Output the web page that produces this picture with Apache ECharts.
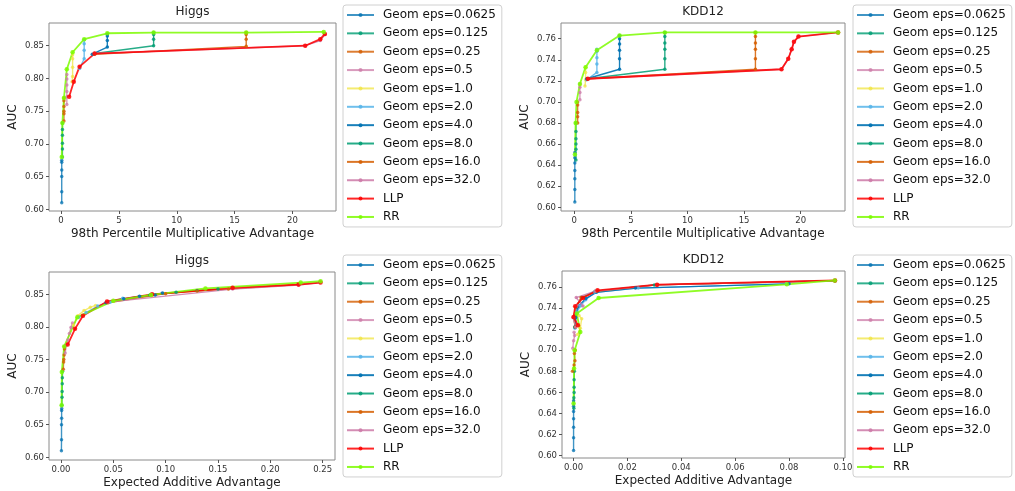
<!DOCTYPE html>
<html>
<head>
<meta charset="utf-8">
<script src="https://cdn.jsdelivr.net/npm/echarts@6/dist/echarts.min.js"></script>
<style>
html, body { margin: 0; padding: 0; background: #fff; }
#chart { width: 1015px; height: 491px; }
</style>
</head>
<body>
<div id="chart"></div>
<script>
// legend names, in plot order
const seriesNames = ['Geom eps=0.0625', 'Geom eps=0.125', 'Geom eps=0.25', 'Geom eps=0.5', 'Geom eps=1.0',
    'Geom eps=2.0', 'Geom eps=4.0', 'Geom eps=8.0', 'Geom eps=16.0', 'Geom eps=32.0', 'LLP', 'RR'];
const seriesColors = ['rgba(0,114,178,0.75)', 'rgba(0,158,115,0.8)', 'rgba(213,94,0,0.8)', 'rgba(204,121,167,0.75)',
    'rgba(240,228,66,0.75)', 'rgba(86,180,233,0.85)', 'rgba(0,114,178,0.9)', 'rgba(0,158,115,0.85)',
    'rgba(213,94,0,0.85)', 'rgba(204,121,167,0.85)', 'rgba(255,0,0,0.85)', 'rgba(124,252,0,0.85)'];

// Higgs, 98th percentile multiplicative advantage vs AUC
const higgsMult = [
    [[0.06, 0.61], [0.06, 0.627], [0.06, 0.65], [0.06, 0.66], [0.06, 0.672], [0.06, 0.675]],
    [[0.12, 0.68], [0.12, 0.692], [0.12, 0.701], [0.12, 0.713], [0.12, 0.722], [0.12, 0.732]],
    [[0.25, 0.735], [0.25, 0.746], [0.25, 0.75], [0.25, 0.757], [0.25, 0.766], [0.25, 0.77]],
    [[0.5, 0.76], [0.5, 0.772], [0.5, 0.78], [0.5, 0.79], [0.5, 0.799], [0.5, 0.806]],
    [[0.95, 0.795], [1, 0.803], [1, 0.817], [1, 0.83], [1, 0.836]],
    [[1.6, 0.815], [2, 0.83], [2, 0.843], [2, 0.853], [2, 0.859]],
    [[2.7, 0.837], [4, 0.848], [4, 0.858], [4, 0.865], [4, 0.868]],
    [[2.9, 0.838], [8, 0.85], [8, 0.86], [8, 0.867], [8, 0.87]],
    [[2.9, 0.837], [16, 0.849], [16, 0.86], [16, 0.867], [16, 0.87]],
    [[2.9, 0.838], [21.1, 0.85], [22.4, 0.858], [22.8, 0.867]],
    [[0.7, 0.772], [1.1, 0.795], [1.6, 0.818], [2.9, 0.838], [21.1, 0.85], [22.4, 0.86], [22.8, 0.868]],
    [[0.06, 0.68], [0.12, 0.732], [0.25, 0.77], [0.5, 0.814], [1, 0.84], [2, 0.86], [4, 0.869], [8, 0.87], [16, 0.87], [22.7, 0.871]]
];

// KDD12, 98th percentile multiplicative advantage vs AUC
const kddMult = [
    [[0.05, 0.605], [0.05, 0.617], [0.05, 0.627], [0.05, 0.635], [0.05, 0.642], [0.05, 0.647], [0.05, 0.652]],
    [[0.15, 0.645], [0.15, 0.655], [0.15, 0.66], [0.15, 0.665], [0.15, 0.672], [0.15, 0.68]],
    [[0.3, 0.68], [0.3, 0.686], [0.3, 0.69], [0.3, 0.697], [0.3, 0.7]],
    [[0.5, 0.702], [0.5, 0.709], [0.5, 0.714], [0.5, 0.717]],
    [[0.95, 0.715], [1, 0.721], [1, 0.728], [1, 0.733]],
    [[1.1, 0.721], [2, 0.728], [2, 0.736], [2, 0.742], [2, 0.748], [2, 0.75]],
    [[1.1, 0.722], [4, 0.731], [4, 0.741], [4, 0.749], [4, 0.755], [4, 0.76], [4, 0.763]],
    [[1.2, 0.722], [8, 0.731], [8, 0.741], [8, 0.75], [8, 0.756], [8, 0.762], [8, 0.766]],
    [[1.2, 0.722], [16, 0.731], [16, 0.741], [16, 0.75], [16, 0.756], [16, 0.762], [16, 0.766]],
    [[1.2, 0.722], [18.3, 0.731], [18.9, 0.741], [19.2, 0.75], [19.4, 0.757], [19.8, 0.762], [23.3, 0.766]],
    [[1.2, 0.722], [18.3, 0.731], [18.9, 0.741], [19.2, 0.75], [19.4, 0.757], [19.8, 0.762], [23.3, 0.766]],
    [[0.06, 0.65], [0.12, 0.68], [0.2, 0.7], [0.5, 0.717], [1, 0.733], [2, 0.749], [4, 0.763], [8, 0.766], [16, 0.766], [23.3, 0.766]]
];

// Higgs, expected additive advantage vs AUC
const higgsAdd = [
    [[0.0004, 0.61], [0.0005, 0.627], [0.0005, 0.65], [0.0006, 0.66], [0.0006, 0.672], [0.0007, 0.675]],
    [[0.0008, 0.68], [0.001, 0.692], [0.0011, 0.701], [0.0012, 0.713], [0.0013, 0.722], [0.0015, 0.732]],
    [[0.0022, 0.735], [0.0025, 0.746], [0.0027, 0.75], [0.003, 0.757], [0.0033, 0.766], [0.0035, 0.77]],
    [[0.004, 0.76], [0.005, 0.772], [0.0065, 0.78], [0.008, 0.79], [0.0095, 0.799], [0.011, 0.806]],
    [[0.012, 0.803], [0.016, 0.817], [0.022, 0.825], [0.028, 0.83], [0.033, 0.833]],
    [[0.017, 0.815], [0.024, 0.822], [0.035, 0.832], [0.047, 0.838], [0.059, 0.844]],
    [[0.043, 0.837], [0.06, 0.843], [0.075, 0.847], [0.09, 0.849], [0.097, 0.852]],
    [[0.045, 0.838], [0.085, 0.849], [0.11, 0.853], [0.13, 0.856], [0.15, 0.858]],
    [[0.045, 0.837], [0.1, 0.851], [0.13, 0.855], [0.16, 0.858], [0.227, 0.865]],
    [[0.045, 0.838], [0.164, 0.858], [0.227, 0.864], [0.247, 0.868]],
    [[0.0064, 0.773], [0.0134, 0.797], [0.021, 0.817], [0.044, 0.839], [0.087, 0.85], [0.164, 0.86], [0.227, 0.865], [0.248, 0.868]],
    [[0.0006, 0.68], [0.0008, 0.731], [0.003, 0.77], [0.0156, 0.815], [0.05, 0.84], [0.086, 0.849], [0.138, 0.859], [0.229, 0.868], [0.248, 0.87]]
];

// KDD12, expected additive advantage vs AUC
const kddAdd = [
    [[0, 0.605], [0, 0.617], [0, 0.627], [0, 0.635], [0, 0.642], [0, 0.647], [0, 0.652]],
    [[0.0001, 0.645], [0.0001, 0.655], [0.0002, 0.66], [0.0002, 0.665], [0.0002, 0.672], [0.0003, 0.68]],
    [[-0.0004, 0.68], [0.0002, 0.686], [0.0005, 0.69], [0.0003, 0.697], [0.0006, 0.7]],
    [[-0.0003, 0.702], [0, 0.709], [0.0004, 0.714], [0.0002, 0.717]],
    [[0.0015, 0.715], [0.0025, 0.721], [0.003, 0.73], [0.002, 0.733]],
    [[0.0005, 0.721], [0.0012, 0.736], [0.0025, 0.742], [0.0045, 0.748], [0.008, 0.755], [0.024, 0.759], [0.079, 0.763]],
    [[0.0005, 0.722], [0.0008, 0.731], [0.0015, 0.741], [0.0045, 0.749], [0.0085, 0.755], [0.023, 0.759], [0.08, 0.763]],
    [[0.0005, 0.722], [0.0003, 0.731], [0.001, 0.741], [0.003, 0.75], [0.008, 0.756], [0.03, 0.762], [0.097, 0.766]],
    [[0.0006, 0.722], [0, 0.731], [0.0008, 0.741], [0.0028, 0.75], [0.0085, 0.756], [0.031, 0.762], [0.097, 0.766]],
    [[0.0008, 0.722], [-0.0002, 0.731], [0.0012, 0.742], [0.0035, 0.742], [0.001, 0.75], [0.008, 0.756], [0.031, 0.762], [0.097, 0.766]],
    [[0.0016, 0.7237], [0, 0.7316], [0.0006, 0.7417], [0.0035, 0.7496], [0.0089, 0.7569], [0.031, 0.7622], [0.0971, 0.7663]],
    [[0, 0.6496], [0.0002, 0.6827], [0.0004, 0.7], [0.0025, 0.7174], [0.0012, 0.7348], [0.0093, 0.7496], [0.0792, 0.7626], [0.097, 0.7663]]
];

// tick labels
const multTicks = [0, 5, 10, 15, 20];
const higgsAddTicks = [0, 0.05, 0.1, 0.15, 0.2, 0.25];
const kddAddTicks = [0, 0.02, 0.04, 0.06, 0.08, 0.1];
const higgsAucTicks = [0.6, 0.65, 0.7, 0.75, 0.8, 0.85];
const kddAucTicks = [0.6, 0.62, 0.64, 0.66, 0.68, 0.7, 0.72, 0.74, 0.76];

const FONT = 'DejaVu Sans';

const panels = [
    { title: 'Higgs', xName: '98th Percentile Multiplicative Advantage', data: higgsMult,
      grid: { left: 49, top: 23, width: 287, height: 188 }, xMin: -1.04, xMax: 23.76, yMin: 0.5974, yMax: 0.8847,
      xTicks: multTicks, yTicks: higgsAucTicks, xDec: 0, legend: { left: 343, top: 5 } },
    { title: 'KDD12', xName: '98th Percentile Multiplicative Advantage', data: kddMult,
      grid: { left: 561, top: 23, width: 284, height: 188 }, xMin: -1.17, xMax: 23.91, yMin: 0.5965, yMax: 0.7749,
      xTicks: multTicks, yTicks: kddAucTicks, xDec: 0, legend: { left: 853, top: 5 } },
    { title: 'Higgs', xName: 'Expected Additive Advantage', data: higgsAdd,
      grid: { left: 49, top: 272, width: 286, height: 188 }, xMin: -0.01146, xMax: 0.2618, yMin: 0.5959, yMax: 0.8842,
      xTicks: higgsAddTicks, yTicks: higgsAucTicks, xDec: 2, legend: { left: 343, top: 255 } },
    { title: 'KDD12', xName: 'Expected Additive Advantage', data: kddAdd,
      grid: { left: 562, top: 271, width: 283, height: 187 }, xMin: -0.0043, xMax: 0.1008, yMin: 0.5978, yMax: 0.7752,
      xTicks: kddAddTicks, yTicks: kddAucTicks, xDec: 2, legend: { left: 853, top: 255 } }
];

const chart = echarts.init(document.getElementById('chart'), null, { renderer: 'canvas' });

const option = {
    animation: false,
    backgroundColor: '#fff',
    title: [], grid: [], xAxis: [], yAxis: [], legend: [], series: []
};

panels.forEach((p, pi) => {
    option.title.push({
        text: p.title,
        left: p.grid.left + p.grid.width / 2,
        top: p.grid.top - 17,
        textAlign: 'center',
        padding: 0,
        textStyle: { fontFamily: FONT, fontSize: 12, fontWeight: 'normal', color: '#222' }
    });
    option.grid.push(Object.assign({
        show: true, borderColor: '#8a8a8a', borderWidth: 1, backgroundColor: 'transparent', containLabel: false
    }, p.grid));
    option.xAxis.push({
        type: 'value', gridIndex: pi, min: p.xMin, max: p.xMax,
        name: p.xName, nameLocation: 'middle', nameGap: 17,
        nameTextStyle: { fontFamily: FONT, fontSize: 12, color: '#222' },
        axisLine: { show: false, onZero: false },
        splitLine: { show: false },
        axisTick: { show: true, inside: false, length: 3, customValues: p.xTicks, lineStyle: { color: '#555' } },
        axisLabel: { customValues: p.xTicks, margin: 5, fontFamily: FONT, fontSize: 8.5, color: '#333',
            formatter: v => v.toFixed(p.xDec) }
    });
    option.yAxis.push({
        type: 'value', gridIndex: pi, min: p.yMin, max: p.yMax,
        name: 'AUC', nameLocation: 'middle', nameGap: 30, nameRotate: 90,
        nameTextStyle: { fontFamily: FONT, fontSize: 12, color: '#222' },
        axisLine: { show: false, onZero: false },
        splitLine: { show: false },
        axisTick: { show: true, inside: false, length: 3, customValues: p.yTicks, lineStyle: { color: '#555' } },
        axisLabel: { customValues: p.yTicks, margin: 5, fontFamily: FONT, fontSize: 8.5, color: '#333',
            formatter: v => v.toFixed(2) }
    });
    option.legend.push({
        data: seriesNames,
        orient: 'vertical',
        left: p.legend.left, top: p.legend.top,
        padding: [3, 6, 3, 3],
        itemWidth: 27, itemHeight: 5, itemGap: 4.36,
        borderColor: '#d0d0d0', borderWidth: 1, borderRadius: 3, backgroundColor: '#fff',
        textStyle: { fontFamily: FONT, fontSize: 12, color: '#111', lineHeight: 14, padding: [0, 0, 0, 4] },
        selectedMode: false
    });
    p.data.forEach((pts, si) => {
        const big = si >= 10;
        option.series.push({
            name: seriesNames[si],
            type: 'line',
            xAxisIndex: pi, yAxisIndex: pi,
            data: pts,
            symbol: 'circle',
            symbolSize: big ? 4.5 : 3.5,
            showSymbol: true,
            color: seriesColors[si],
            lineStyle: { width: big ? 1.8 : 1.4, color: seriesColors[si] },
            itemStyle: { color: seriesColors[si] },
            emphasis: { disabled: true },
            silent: true,
            clip: true
        });
    });
});

chart.setOption(option);
</script>
</body>
</html>
